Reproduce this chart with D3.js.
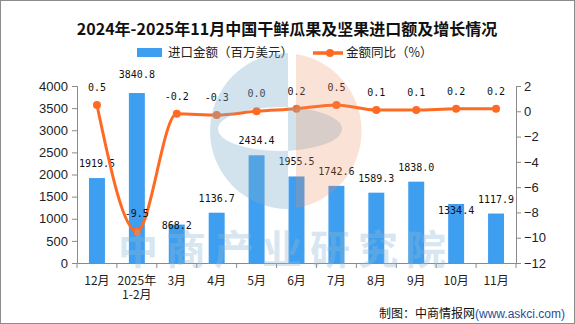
<!DOCTYPE html>
<html>
<head>
<meta charset="utf-8">
<script src="https://cdn.jsdelivr.net/npm/d3@7"></script>
<style>
  body { margin: 0; background: #fff; }
  svg { display: block; }
</style>
</head>
<body>
<div id="chart"></div>
<script>
// data
let months = ["12月", "2025年\n1-2月", "3月", "4月", "5月", "6月", "7月", "8月", "9月", "10月", "11月"];
let importValue = [1919.5, 3840.8, 868.2, 1136.7, 2434.4, 1955.5, 1742.6, 1589.3, 1838.0, 1334.4, 1117.9];
let yoyGrowth = [0.5, -9.5, -0.2, -0.3, 0.0, 0.2, 0.5, 0.1, 0.1, 0.2, 0.2];
let leftTicks = [0, 500, 1000, 1500, 2000, 2500, 3000, 3500, 4000];
let rightTicks = [2, 0, -2, -4, -6, -8, -10, -12];

let width = 575, height = 324;
let margin = {top: 86, right: 59, bottom: 61, left: 77};

let svg = d3.select("#chart").append("svg")
    .attr("width", width)
    .attr("height", height);

// outer frame
svg.append("rect")
    .attr("x", 0.5).attr("y", 0.5)
    .attr("width", width - 1).attr("height", height - 1)
    .attr("fill", "#fff")
    .attr("stroke", "#8c8c8c");

let x = d3.scaleBand()
    .domain(months)
    .range([margin.left, width - margin.right])
    .paddingInner(0.6)
    .paddingOuter(0.3);

let yL = d3.scaleLinear().domain([0, 4000]).range([height - margin.bottom, margin.top]);
let yR = d3.scaleLinear().domain([-12, 2]).range([height - margin.bottom, margin.top]);

let axisColor = "#8a8a8a";
let tickFont = "'Liberation Sans', Arial, sans-serif";

// watermark (drawn first in the order, raised later)
let wm = svg.append("g").style("pointer-events", "none");

// title
svg.append("text")
    .attr("x", 287).attr("y", 35)
    .attr("text-anchor", "middle")
    .style("font-family", "'Noto Sans CJK SC', sans-serif")
    .style("font-weight", "bold")
    .style("font-size", "16px")
    .attr("fill", "#111")
    .text("2024年-2025年11月中国干鲜瓜果及坚果进口额及增长情况");

// legend
let legend = svg.append("g").style("font-family", "'Noto Sans CJK SC', sans-serif").style("font-size", "12.5px");
legend.append("rect").attr("x", 137).attr("y", 48).attr("width", 25).attr("height", 9).attr("fill", "#3e9ef0");
legend.append("text").attr("x", 168).attr("y", 57).attr("fill", "#222").text("进口金额（百万美元）");
legend.append("line").attr("x1", 313).attr("x2", 343).attr("y1", 53).attr("y2", 53)
    .attr("stroke", "#ff6a22").attr("stroke-width", 3.5);
legend.append("circle").attr("cx", 330).attr("cy", 53).attr("r", 4).attr("fill", "#ff6a22");
legend.append("text").attr("x", 346).attr("y", 57).attr("fill", "#222").text("金额同比（%）");

// left axis
let gL = svg.append("g")
    .attr("transform", "translate(" + margin.left + ",0)")
    .call(d3.axisLeft(yL).tickValues(leftTicks).tickSize(5).tickPadding(4).tickFormat(d3.format("d")));
gL.selectAll("text").style("font-family", tickFont).style("font-size", "13px").attr("fill", "#222");

// right axis
let gR = svg.append("g")
    .attr("transform", "translate(" + (width - margin.right) + ",0)")
    .call(d3.axisRight(yR).tickValues(rightTicks).tickSize(5).tickPadding(3)
        .tickFormat(function(d) { return d < 0 ? "\u2212" + Math.abs(d) : d; }));
gR.selectAll("text").style("font-family", tickFont).style("font-size", "13px").attr("fill", "#222");

// bottom axis: labels at band centers, ticks at band edges
let gX = svg.append("g")
    .attr("transform", "translate(0," + (height - margin.bottom) + ")")
    .call(d3.axisBottom(x).tickSize(0).tickFormat(""));
let edges = d3.range(months.length + 1).map(function(i) { return margin.left + i * x.step(); });
gX.selectAll(".edge")
    .data(edges)
    .enter().append("line")
    .attr("class", "edge")
    .attr("x1", function(d) { return d; }).attr("x2", function(d) { return d; })
    .attr("y1", 0).attr("y2", 5)
    .attr("stroke", axisColor);

let xLabels = svg.append("g")
    .style("font-family", "'Noto Sans CJK SC', sans-serif")
    .style("font-size", "12px");
months.forEach(function(m) {
    let t = xLabels.append("text")
        .attr("x", x(m) + x.bandwidth() / 2)
        .attr("y", height - margin.bottom + 22)
        .attr("text-anchor", "middle")
        .attr("fill", "#222");
    m.split("\n").forEach(function(part, i) {
        t.append("tspan")
            .attr("x", x(m) + x.bandwidth() / 2)
            .attr("dy", i === 0 ? 0 : 14)
            .text(part);
    });
});

svg.selectAll(".domain").attr("stroke", axisColor);
svg.selectAll(".tick line").attr("stroke", axisColor);

// bars
svg.selectAll(".bar")
    .data(importValue)
    .enter().append("rect")
    .attr("class", "bar")
    .attr("x", function(d, i) { return x(months[i]); })
    .attr("y", function(d) { return yL(d); })
    .attr("width", x.bandwidth())
    .attr("height", function(d) { return yL(0) - yL(d); })
    .attr("fill", "#3e9ef0");

// bar labels (a few are nudged like in the original to dodge the line)
let barNudge = {1: -4, 2: 15, 9: 21};
svg.selectAll(".barlabel")
    .data(importValue)
    .enter().append("text")
    .attr("class", "barlabel")
    .attr("x", function(d, i) { return x(months[i]) + x.bandwidth() / 2; })
    .attr("y", function(d, i) { return yL(d) - 11 + (barNudge[i] || 0); })
    .attr("text-anchor", "middle")
    .style("font-family", "'DejaVu Sans Mono', monospace")
    .style("font-size", "10px")
    .attr("fill", "#111")
    .text(function(d) { return d.toFixed(1); });

// growth line
let line = d3.line()
    .x(function(d, i) { return x(months[i]) + x.bandwidth() / 2; })
    .y(function(d) { return yR(d); })
    .curve(d3.curveMonotoneX);

svg.append("path")
    .datum(yoyGrowth)
    .attr("fill", "none")
    .attr("stroke", "#ff6a22")
    .attr("stroke-width", 3)
    .attr("d", line);

svg.selectAll(".dot")
    .data(yoyGrowth)
    .enter().append("circle")
    .attr("class", "dot")
    .attr("cx", function(d, i) { return x(months[i]) + x.bandwidth() / 2; })
    .attr("cy", function(d) { return yR(d); })
    .attr("r", 4)
    .attr("fill", "#ff6a22");

svg.selectAll(".linelabel")
    .data(yoyGrowth)
    .enter().append("text")
    .attr("class", "linelabel")
    .attr("x", function(d, i) { return x(months[i]) + x.bandwidth() / 2; })
    .attr("y", function(d) { return yR(d) - 14; })
    .attr("text-anchor", "middle")
    .style("font-family", "'DejaVu Sans Mono', monospace")
    .style("font-size", "10px")
    .attr("fill", "#111")
    .text(function(d) { return d.toFixed(1); });

// watermark on top, semi transparent
wm.raise();
let cx = 288, cy = 131, r = 78;
wm.append("path")
    .attr("d", "M" + cx + "," + (cy - r) + " A" + r + "," + r + " 0 0 0 " + cx + "," + (cy + r) + " Z" +
        " M" + (cx - 70) + "," + (cy - 2) + " a62,22 0 1 0 124,0 a62,22 0 1 0 -124,0 Z")
    .attr("fill-rule", "evenodd")
    .attr("fill", "#7fb0cf")
    .attr("opacity", 0.35);
wm.append("path")
    .attr("d", "M" + (cx + 8) + "," + (cy - r + 1) + " A" + r + "," + r + " 0 0 1 " + (cx + 8) + "," + (cy + r - 1) + " Z")
    .attr("fill", "#f08a5d")
    .attr("opacity", 0.25);
wm.append("text")
    .attr("x", 118).attr("y", 264)
    .style("font-family", "'Noto Sans CJK SC', sans-serif")
    .style("font-weight", "bold")
    .style("font-size", "40px")
    .style("letter-spacing", "8px")
    .attr("fill", "#8fbad6")
    .attr("opacity", 0.35)
    .text("中商产业研究院");

// source
let src = svg.append("text")
    .attr("x", 565).attr("y", 318)
    .attr("text-anchor", "end")
    .style("font-family", "'Noto Sans CJK SC', sans-serif")
    .style("font-size", "12px");
src.append("tspan").attr("fill", "#111").text("制图：中商情报网");
src.append("tspan").attr("fill", "#1f4e99").style("font-family", "'Liberation Sans Narrow', 'Liberation Sans', sans-serif").style("font-size", "12px").text("(www.askci.com)");
</script>
</body>
</html>
